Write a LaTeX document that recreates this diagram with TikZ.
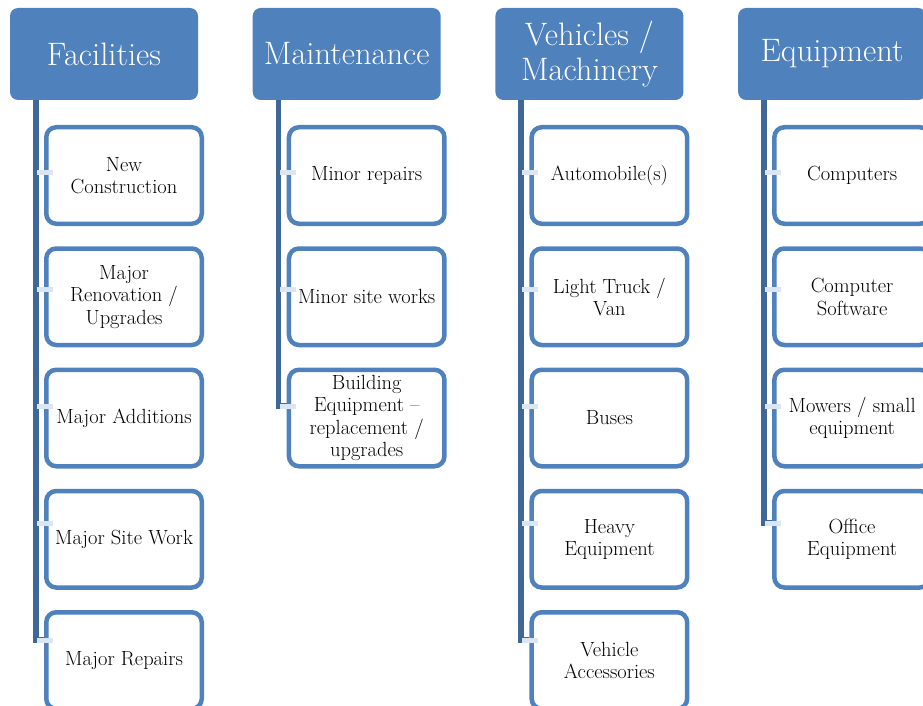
\documentclass[tikz,border=0pt]{standalone}
\usepackage{fontspec}
\pgfdeclarelayer{background}
\pgfsetlayers{background,main}
\definecolor{hdr}{HTML}{4F81BD}
\definecolor{spinec}{HTML}{3F6899}
\definecolor{stubc}{HTML}{DCE6F2}
\tikzset{
  hdrbox/.style={draw=none, fill=hdr, rounded corners=8pt, minimum width=188pt,
    minimum height=92pt, text=white, font=\fontsize{32.5}{35.5}\selectfont,
    align=center, inner sep=0pt},
  itembox/.style={draw=hdr, line width=4.5pt, fill=white, rounded corners=10pt,
    minimum width=155.5pt, minimum height=96.5pt,
    font=\fontsize{20.5}{22.5}\selectfont, align=center, inner sep=0pt},
  spine/.style={draw=spinec, line width=5.5pt},
  stubline/.style={draw=stubc, line width=5pt}
}
\begin{document}
\begin{tikzpicture}[x=1pt,y=-1pt]
\useasboundingbox (0,0) rectangle (923,706);

% ---------- Facilities ----------
\node[hdrbox] (h1) at (104,54) {Facilities};
\node[itembox] (a1) at (124,175.5)  {New\\Construction};
\node[itembox] (a2) at (124,296.75) {Major\\Renovation /\\Upgrades};
\node[itembox] (a3) at (124,418)    {Major Additions};
\node[itembox] (a4) at (124,539.25) {Major Site Work};
\node[itembox] (a5) at (124,660.5)  {Major Repairs};

% ---------- Maintenance ----------
\node[hdrbox] (h2) at (346.7,54) {Maintenance};
\node[itembox] (b1) at (366.7,175.5)  {Minor repairs};
\node[itembox] (b2) at (366.7,296.75) {Minor site works};
\node[itembox] (b3) at (366.7,418)    {Building\\Equipment --\\replacement /\\upgrades};

% ---------- Vehicles / Machinery ----------
\node[hdrbox] (h3) at (589.4,54) {Vehicles /\\Machinery};
\node[itembox] (c1) at (609.4,175.5)  {Automobile(s)};
\node[itembox] (c2) at (609.4,296.75) {Light Truck /\\Van};
\node[itembox] (c3) at (609.4,418)    {Buses};
\node[itembox] (c4) at (609.4,539.25) {Heavy\\Equipment};
\node[itembox] (c5) at (609.4,660.5)  {Vehicle\\Accessories};

% ---------- Equipment ----------
\node[hdrbox] (h4) at (832.1,54) {Equipment};
\node[itembox] (d1) at (852.1,175.5)  {Computers};
\node[itembox] (d2) at (852.1,296.75) {Computer\\Software};
\node[itembox] (d3) at (852.1,418)    {Mowers / small\\equipment};
\node[itembox] (d4) at (852.1,539.25) {Office\\Equipment};

% ---------- spines ----------
\begin{pgfonlayer}{background}
\draw[spine] ([xshift=26pt]h1.south west) |- ([yshift=20.5pt]a5.west);
\draw[spine] ([xshift=26pt]h2.south west) |- ([yshift=12pt]b3.west);
\draw[spine] ([xshift=26pt]h3.south west) |- ([yshift=20.5pt]c5.west);
\draw[spine] ([xshift=26pt]h4.south west) |- ([yshift=16.25pt]d4.west);
\end{pgfonlayer}

% ---------- stubs ----------
\foreach \n/\s in {a1/3.5,a2/7.75,a3/12,a4/16.25,a5/20.5,
                   b1/3.5,b2/7.75,b3/12,
                   c1/3.5,c2/7.75,c3/12,c4/16.25,c5/20.5,
                   d1/3.5,d2/7.75,d3/12,d4/16.25}{
  \draw[stubline] ([yshift=\s pt, xshift=-7pt]\n.west) -- ++(16,0);
}
\end{tikzpicture}
\end{document}
